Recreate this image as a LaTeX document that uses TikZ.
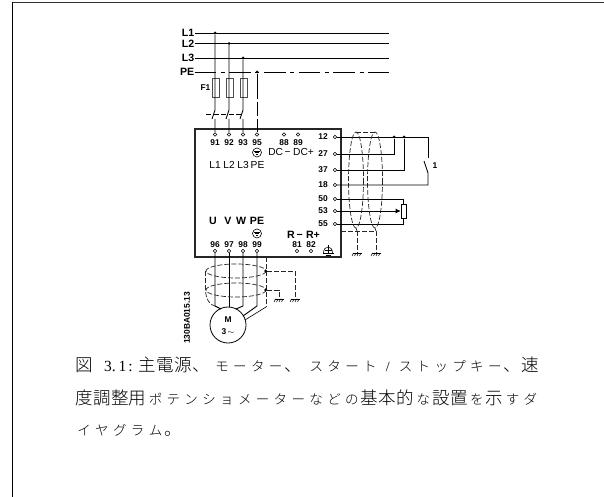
\documentclass[tikz,border=0pt]{standalone}
\usepackage{fontspec}
\usetikzlibrary{arrows.meta}
\setmainfont{Liberation Sans}
\newfontfamily\cjk{Noto Sans CJK JP Light}
\newfontfamily\serifnum{Liberation Serif}
\newlength\pitch \setlength\pitch{17.85pt}
% one full-size or small glyph per grid cell
\newcommand\bigch[1]{\makebox[\pitch]{\fontsize{17.5}{17}\selectfont #1}}
\newcommand\smch[1]{\makebox[\pitch]{\fontsize{13.5}{17}\selectfont #1}}
\makeatletter
\def\bigrun#1{\@tfor\@c:=#1\do{\expandafter\bigch\expandafter{\@c}}}
\def\smrun#1{\@tfor\@c:=#1\do{\expandafter\smch\expandafter{\@c}}}
\makeatother
\tikzset{
 x=1pt,y=-1pt,
 wire/.style={line width=0.9pt,black},
 scr/.style={line width=0.7pt,black!85,dash pattern=on 5pt off 2pt},
 term/.style={circle,draw,line width=0.6pt,inner sep=0pt,minimum size=3.4pt,fill=white},
 dot/.style={circle,fill=black,inner sep=0pt,minimum size=3pt},
 num/.style={font=\bfseries\fontsize{8.4}{8}\selectfont,inner sep=0pt},
 lab/.style={font=\fontsize{10.2}{10}\selectfont,inner sep=0pt},
 blab/.style={font=\bfseries\fontsize{10.6}{10}\selectfont,inner sep=0pt},
 caprow/.style={font=\cjk,anchor=west,inner sep=0pt},
 fuse/.style={draw=black!70,line width=0.9pt,minimum width=7pt,minimum height=19pt,inner sep=0pt},
 pe/.style={circle,draw,line width=0.6pt,inner sep=0pt,minimum size=9pt},
 motor/.style={circle,draw,line width=0.8pt,inner sep=0pt,minimum size=36pt},
 pot/.style={draw,line width=0.7pt,minimum width=5pt,minimum height=14pt,inner sep=0pt},
 earthsym/.pic={\draw[line width=0.6pt] (-4.5,0)--(4.5,0); \foreach \i in {-3.5,-1,1.5,4}{\draw[line width=0.5pt] (\i,0)--(\i-1.5,3);}},
 pesym/.pic={\draw[line width=0.5pt] (-2.8,-1.4)--(2.8,-1.4) (-2.2,0.2)--(2.2,0.2) (-1.2,1.8)--(1.2,1.8);}
}
\begin{document}
\begin{tikzpicture}
\useasboundingbox (0,0) rectangle (604,497);
% page frame
\draw[line width=0.9pt,black!80] (12,2.2) -- (604,2.2);
\draw[line width=0.9pt] (12,2) -- (12,497);
% supply
\node[blab,anchor=east] (nL1) at (194.5,33) {L1};
\node[blab,anchor=east] (nL2) at (194.5,43.5) {L2};
\node[blab,anchor=east] (nL3) at (194.5,58) {L3};
\node[blab,anchor=east] (nPE) at (194.5,72) {PE};
\coordinate (eL1) at (389,33);
\coordinate (eL2) at (389,43.5);
\coordinate (eL3) at (389,58);
\coordinate (ePE) at (389,72);
\draw[wire] (nL1.east) -- (eL1);
\draw[wire] (nL2.east) -- (eL2);
\draw[wire] (nL3.east) -- (eL3);
\draw[wire,dash pattern=on 21.7pt off 4.5pt on 4pt off 4.5pt] (nPE.east) -- (ePE);
\node[dot] (j1) at (215,33) {};
\node[dot] (j2) at (229,43.5) {};
\node[dot] (j3) at (243,58) {};
\node[dot] (j4) at (257,72) {};
% drive box
\draw[line width=1.2pt,black!85] (195,129) rectangle (341,257);
% terminals
\foreach \n/\x in {91/215,92/229,93/243,95/257,88/284,89/298}{
  \node[term] (t\n) at (\x,134.5) {};
  \node[num] (l\n) at (\x,142.5) {\n};
}
\foreach \n/\x in {96/215,97/229,98/243,99/257,81/297,82/311}{
  \node[term] (t\n) at (\x,251) {};
  \node[num] (l\n) at (\x,245) {\n};
}
\foreach \n/\y in {12/137,27/154,37/170,18/185,50/199,53/211,55/224}{
  \node[term] (t\n) at (335,\y) {};
  \node[num] (l\n) at (323,\y) {\n};
}
% fuses
\node[fuse] (f1) at (215.5,87.5) {};
\node[fuse] (f2) at (229.5,87.5) {};
\node[fuse] (f3) at (243.5,87.5) {};
\node[num] (lf) at (205.5,88) {F1};
% contactor
\foreach \i/\x in {1/215,2/229,3/243}{
  \coordinate (a\i) at (\x,110);
  \coordinate (b\i) at (\x-3,119);
  \coordinate (c\i) at (\x,119);
}
\draw[wire] (j1) -- (a1) (b1) -- (a1) (c1) -- (t91);
\draw[wire] (j2) -- (a2) (b2) -- (a2) (c2) -- (t92);
\draw[wire] (j3) -- (a3) (b3) -- (a3) (c3) -- (t93);
\coordinate (sw1) at (206,114);
\coordinate (sw2) at (243,114);
\draw[wire,line width=0.6pt,dash pattern=on 5pt off 2.5pt] (sw1) -- (sw2);
\draw[wire,dash pattern=on 25pt off 3pt on 14pt off 3pt on 18pt off 0pt] (j4) -- (t95);
% labels in the box
\node[lab] (DCm) at (279.5,152) {DC\,−};
\node[lab] (DCp) at (303.5,152) {DC+};
\node[lab] (iL1) at (215,165) {L1};
\node[lab] (iL2) at (229,165) {L2};
\node[lab] (iL3) at (243,165) {L3};
\node[lab] (iPE) at (257.5,165) {PE};
\node[pe] (pe1) at (257,152.5) {};
\pic at (257,152.5) {pesym};
\node[blab] (U) at (213,221) {U};
\node[blab] (V) at (228,221) {V};
\node[blab] (W) at (241,221) {W};
\node[blab] (oPE) at (257,221) {PE};
\node[pe] (pe2) at (257,233.5) {};
\pic at (257,233.5) {pesym};
\node[blab] (Rm) at (295,235) {R\,−};
\node[blab] (Rp) at (313,235) {R+};
% chassis earth
\draw[line width=0.5pt] (328,244.5) -- (328,253);
\draw[line width=0.7pt] (322.5,253) -- (333.5,253);
\draw[line width=0.6pt] (323.5,253) .. controls (323.5,245) and (332.5,245) .. (332.5,253);
\draw[line width=0.5pt] (324.5,250.5) -- (331.5,250.5);
\draw[line width=0.5pt] (325.5,255) -- (330.5,255);
% control wiring
\node[dot] (j27) at (394,137) {};
\node[dot] (j37) at (404,137) {};
\coordinate (s1) at (428,158);
\coordinate (s2) at (428,173);
\coordinate (s3) at (424,161);
\draw[wire] (t12) -| (s1);
\draw[wire] (t18) -| (s2) -- (s3);
\draw[wire] (t27) -| (j27);
\draw[wire] (t37) -| (j37);
\node[num] (lone) at (435,166) {1};
\node[pot] (pot) at (403.5,211) {};
\draw[wire,line width=0.7pt] (t50) -| (pot.north);
\draw[wire,line width=0.7pt] (t55) -| (pot.south);
\draw[wire,line width=0.7pt,-{Latex[length=5pt,width=5pt]}] (t53) -- (pot.west);
% control cable screens
\draw[scr] (356,180) ellipse[x radius=7.5,y radius=48];
\draw[scr] (375,180) ellipse[x radius=7.5,y radius=48];
\coordinate (sc1) at (356,132);
\coordinate (sc2) at (375,132);
\draw[scr] (sc1) -- (sc2);
\coordinate (sb0) at (341,231);
\coordinate (sb1) at (357,231);
\coordinate (sb2) at (376,231);
\coordinate (g1) at (357,253);
\coordinate (g2) at (376,253);
\draw[scr] (sb0) -- (sb2) -- (g2);
\draw[scr] (sb1) -- (g1);
\draw[scr] (356,228) -- (sb1) (375,228) -- (sb2);
\pic at (g1) {earthsym};
\pic at (g2) {earthsym};
% motor
\node[motor] (mot) at (228,325) {};
\node[num] (M) at (228,320) {M};
\node[num] (three) at (228,332) {3\,$\mathbf{\sim}$};
\coordinate (m1a) at (215,306);
\coordinate (m3a) at (243,306);
\coordinate (m4a) at (257,306);
\coordinate (m5a) at (266,307);
\coordinate (m1) at (221,309);
\coordinate (m3) at (236,309);
\coordinate (m4) at (243,316);
\coordinate (m5) at (245,320);
\draw[wire] (t96) -- (m1a) -- (m1);
\draw[wire] (t97) -- (mot.north-|t97);
\draw[wire] (t98) -- (m3a) -- (m3);
\draw[wire] (t99) -- (m4a) -- (m4);
\coordinate (bx) at (266,257);
\draw[scr] (bx) -- (m5a);
\draw[wire,line width=0.6pt] (m5a) -- (m5);
% motor cable screens
\draw[scr] (236,271) ellipse[x radius=30,y radius=7];
\draw[scr] (236,290) ellipse[x radius=30,y radius=7];
\coordinate (lf1) at (205.5,271);
\coordinate (lf2) at (205.5,290);
\draw[scr] (lf1) -- (lf2) .. controls (206,300) and (210,305) .. (m1a);
\node[dot] (d1) at (265.5,271) {};
\node[dot] (d2) at (265.5,290) {};
\coordinate (ge1) at (295,299);
\coordinate (ge2) at (279,299);
\draw[scr] (d1) -| (ge1);
\draw[scr] (d2) -| (ge2);
\pic at (ge1) {earthsym};
\pic at (ge2) {earthsym};
% code
\node[num,rotate=90] (code) at (187,318) {130BA015.13};
% caption
\node[caprow] (cap1) at (75,365) {\bigrun{図}\hspace{11pt}{\serifnum\fontsize{15.5}{17}\selectfont 3.\hspace{3pt}1\hspace{2pt}:}\hspace{6pt}\bigrun{主電源、}\hspace{3pt}\smrun{モーター}\bigrun{、}\hspace{5pt}\smrun{スタート}\hspace{7pt}{\serifnum\fontsize{14}{17}\selectfont /}\hspace{7pt}\smrun{ストップキー}\bigrun{、}\bigrun{速}};
\node[caprow] (cap2) at (75,398) {\bigrun{度調整用}\smrun{ポテンショメーター}\smrun{など}\smrun{の}\bigrun{基本的}\smrun{な}\bigrun{設置}\smrun{を}\bigrun{示}\smrun{すダ}};
\node[caprow] (cap3) at (75,430) {\smrun{イヤグラム}\bigrun{。}};
\end{tikzpicture}
\end{document}
